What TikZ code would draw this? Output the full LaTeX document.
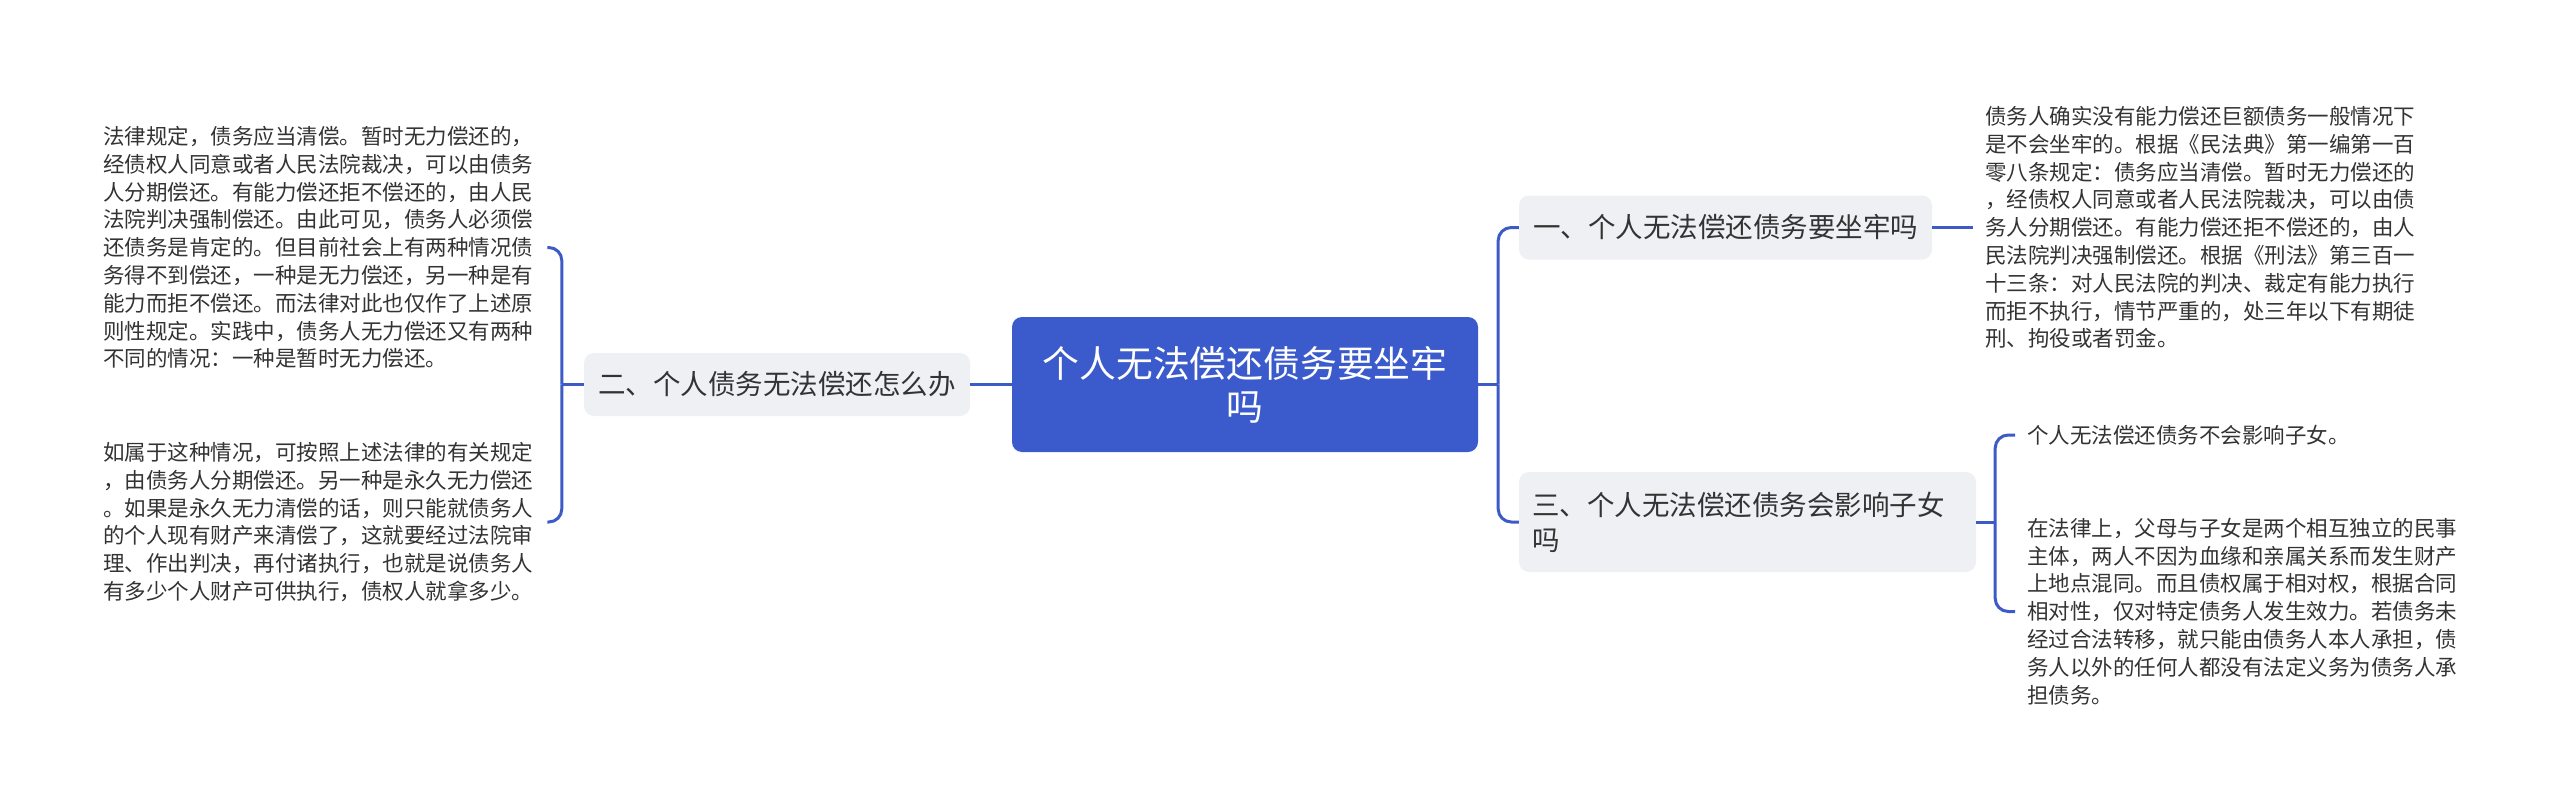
\documentclass[tikz,border=0pt]{standalone}
\usepackage{fontspec}
\setmainfont{Noto Sans CJK SC}
\usetikzlibrary{positioning}
\definecolor{mainblue}{HTML}{3B5BCC}
\definecolor{linkblue}{HTML}{3D5BC6}
\definecolor{nodegray}{HTML}{EEF0F3}
\definecolor{txt}{HTML}{333333}
\tikzset{
  rootbox/.style={fill=mainblue, rounded corners=10pt, text=white, align=center,
    minimum width=466pt, minimum height=135pt, inner sep=0pt,
    font=\fontsize{36.8}{43}\selectfont},
  subbox/.style={fill=nodegray, rounded corners=10pt, text=txt, align=left,
    inner ysep=0pt, inner xsep=13pt, font=\fontsize{27.5}{35}\selectfont},
  leaftext/.style={text=txt, align=left, anchor=west, text width=432pt,
    inner xsep=12pt, inner ysep=0pt, font=\fontsize{21.5}{27.8}\selectfont},
  conn/.style={draw=linkblue, line width=3pt},
  brk/.style={draw=linkblue, line width=3pt, rounded corners=13pt},
}
\begin{document}
\begin{tikzpicture}[x=1pt,y=-1pt]
\useasboundingbox (0,0) rectangle (2560,811);

\node[rootbox] (root) at (1245,384.5) {个人无法偿还债务要坐牢\\吗};

\node[subbox, minimum width=386pt, minimum height=63pt, align=center] (L) at (777,384.5) {二、个人债务无法偿还怎么办};
\node[subbox, minimum width=413pt, minimum height=64pt, align=center] (n1) at (1725.5,227.5) {一、个人无法偿还债务要坐牢吗};
\node[subbox, text width=431pt, minimum height=100pt] (n3) at (1747.5,522) {三、个人无法偿还债务会影响子女\\吗};

\node[leaftext] (t1) at (91,247.5) {法律规定，债务应当清偿。暂时无力偿还的，\\经债权人同意或者人民法院裁决，可以由债务\\人分期偿还。有能力偿还拒不偿还的，由人民\\法院判决强制偿还。由此可见，债务人必须偿\\还债务是肯定的。但目前社会上有两种情况债\\务得不到偿还，一种是无力偿还，另一种是有\\能力而拒不偿还。而法律对此也仅作了上述原\\则性规定。实践中，债务人无力偿还又有两种\\不同的情况：一种是暂时无力偿还。};
\node[leaftext] (t2) at (91,522) {如属于这种情况，可按照上述法律的有关规定\\，由债务人分期偿还。另一种是永久无力偿还\\。如果是永久无力清偿的话，则只能就债务人\\的个人现有财产来清偿了，这就要经过法院审\\理、作出判决，再付诸执行，也就是说债务人\\有多少个人财产可供执行，债权人就拿多少。};

\node[leaftext] (r1) at (1973,227.5) {债务人确实没有能力偿还巨额债务一般情况下\\是不会坐牢的。根据《民法典》第一编第一百\\零八条规定：债务应当清偿。暂时无力偿还的\\，经债权人同意或者人民法院裁决，可以由债\\务人分期偿还。有能力偿还拒不偿还的，由人\\民法院判决强制偿还。根据《刑法》第三百一\\十三条：对人民法院的判决、裁定有能力执行\\而拒不执行，情节严重的，处三年以下有期徒\\刑、拘役或者罚金。};
\node[leaftext] (r2a) at (2015,435) {个人无法偿还债务不会影响子女。};
\node[leaftext] (r2b) at (2015,611.5) {在法律上，父母与子女是两个相互独立的民事\\主体，两人不因为血缘和亲属关系而发生财产\\上地点混同。而且债权属于相对权，根据合同\\相对性，仅对特定债务人发生效力。若债务未\\经过合法转移，就只能由债务人本人承担，债\\务人以外的任何人都没有法定义务为债务人承\\担债务。};

% connectors
\draw[conn] (root.west) -- (L.east);
\draw[conn] (L.west) -- ([xshift=-22pt]L.west) coordinate (lj);
\draw[brk] (lj) |- (t1.east);
\draw[brk] (lj) |- (t2.east);

\draw[conn] (root.east) -- ([xshift=20pt]root.east) coordinate (rj);
\draw[brk] (rj) |- (n1.west);
\draw[brk] (rj) |- (n3.west);

\draw[conn] (n1.east) -- (r1.west);

\draw[conn] (n3.east) -- ([xshift=19pt]n3.east) coordinate (bj);
\draw[brk] (bj) |- (r2a.west);
\draw[brk] (bj) |- (r2b.west);
\end{tikzpicture}
\end{document}
